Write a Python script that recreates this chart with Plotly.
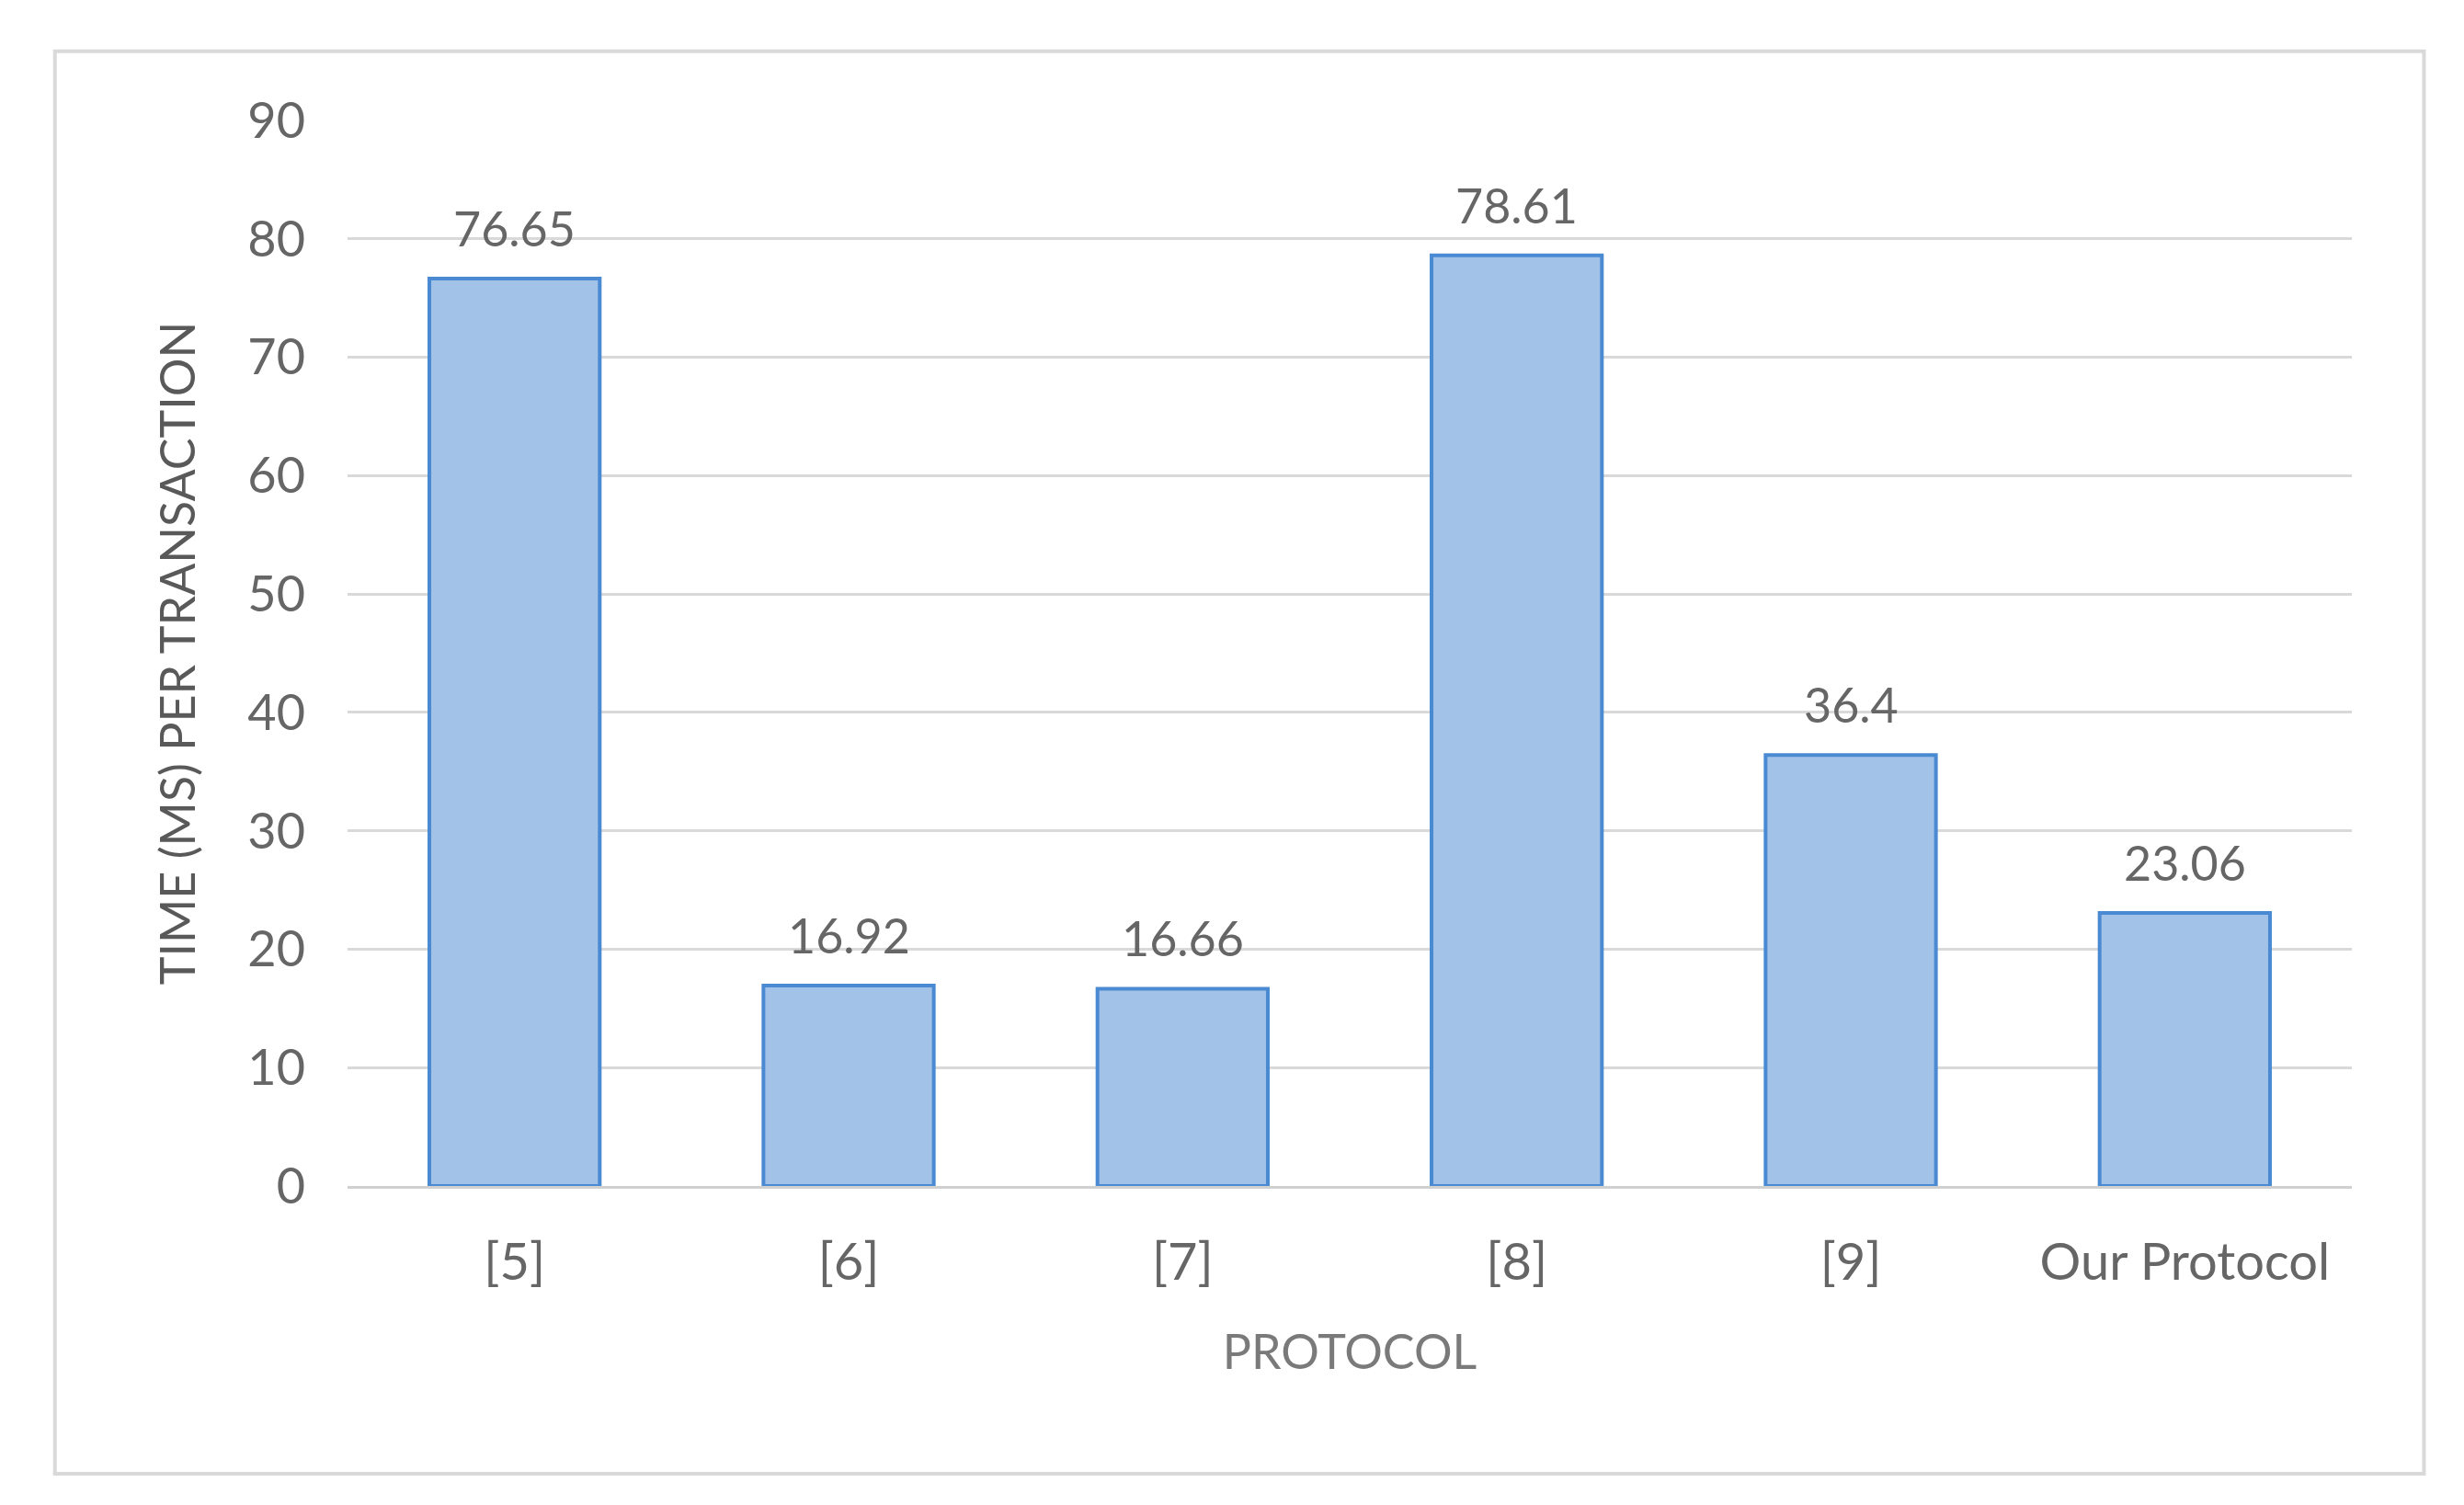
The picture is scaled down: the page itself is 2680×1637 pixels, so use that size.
import plotly.graph_objects as go

categories = ["[5]", "[6]", "[7]", "[8]", "[9]", "Our Protocol"]
values = [76.65, 16.92, 16.66, 78.61, 36.4, 23.06]
labels = ["76.65", "16.92", "16.66", "78.61", "36.4", "23.06"]

FONT = "Lato, Open Sans, sans-serif"
fig = go.Figure(go.Bar(
    x=categories, y=values,
    marker=dict(color="#a3c2e8", line=dict(color="#4a8ad2", width=4)),
))
for c, v, t in zip(categories, values, labels):
    fig.add_annotation(x=c, y=v, text=t, showarrow=False, yanchor="bottom",
                       yshift=22, font=dict(size=52, color="#666666", family=FONT))
fig.update_layout(
    width=2680, height=1637,
    margin=dict(l=370, r=130, t=123, b=355),
    paper_bgcolor="white", plot_bgcolor="white",
    bargap=0.49, showlegend=False,
    font=dict(family=FONT, color="#666666"),
    xaxis=dict(
        tickfont=dict(size=56, color="#666666"),
        showline=True, linecolor="#d0d0d0", linewidth=3,
        ticks="", ticklabelstandoff=32,
        title=dict(text="PROTOCOL", font=dict(size=52, color="#7a7a7a"), standoff=50),
    ),
    yaxis=dict(
        range=[0, 90], dtick=10,
        tickfont=dict(size=54, color="#666666"),
        gridcolor="#d9d9d9", gridwidth=3, zeroline=False,
        ticks="", ticklabelstandoff=45,
        title=dict(text="TIME (MS) PER TRANSACTION", font=dict(size=52, color="#595959"), standoff=40),
    ),
    shapes=[dict(type="rect", xref="paper", yref="paper",
                 x0=-0.146, x1=1.036, y0=-0.270, y1=1.065,
                 line=dict(color="#d9d9d9", width=4))],
)
fig.write_html("out.html")
